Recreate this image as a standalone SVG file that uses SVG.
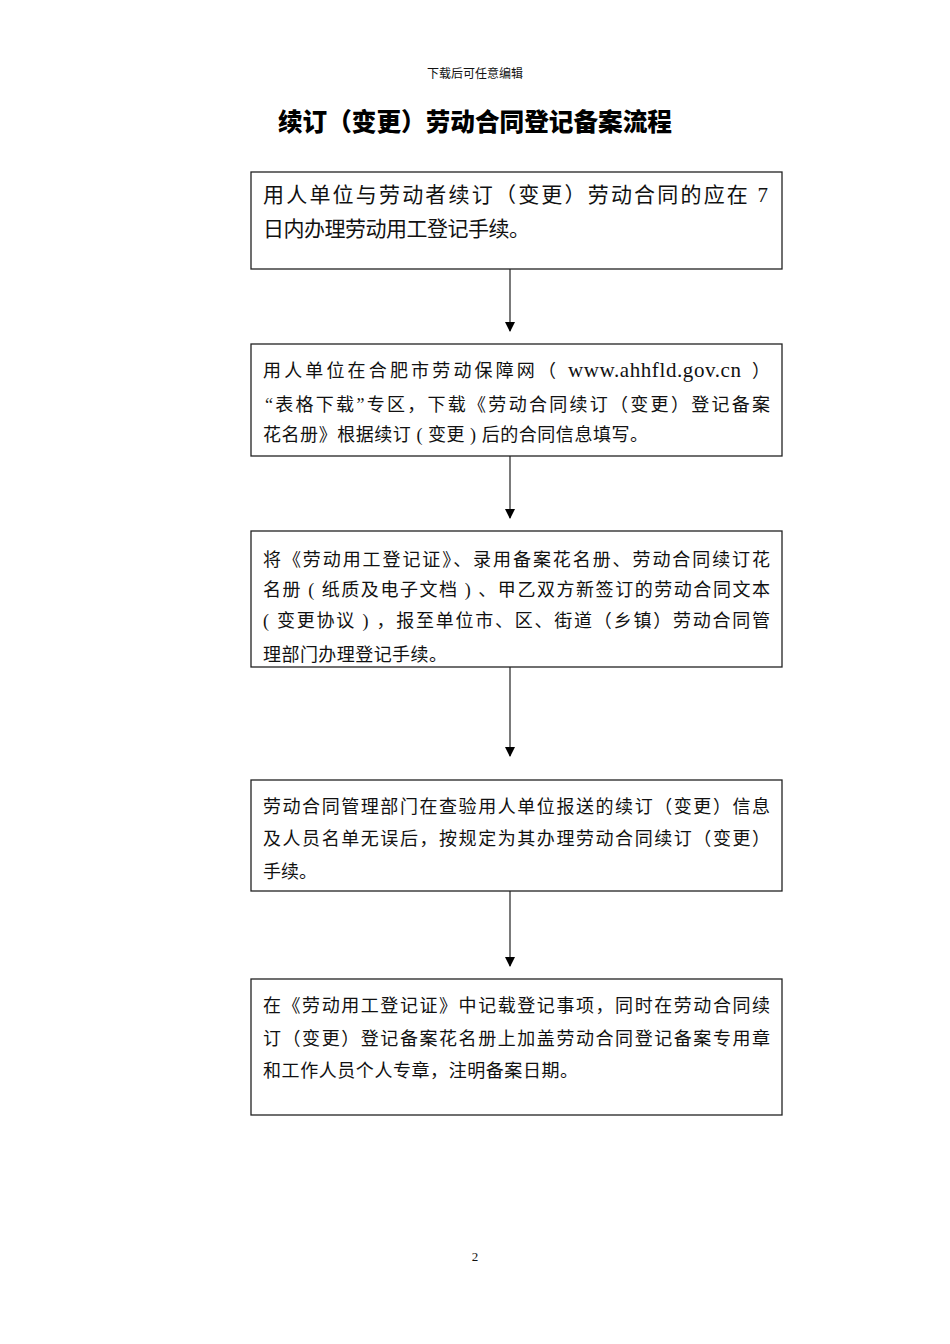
<svg xmlns="http://www.w3.org/2000/svg" width="950" height="1344" viewBox="0 0 950 1344">
<style>
.box{fill:#fff;stroke:#222;stroke-width:1.3}
.t{font-family:"Liberation Serif","Noto Sans CJK SC",serif;fill:#111}
.f18{font-size:18px}
.f21{font-size:21px}
.conn{stroke:#333;stroke-width:1.3;fill:none}
</style>
<defs>
<marker id="ah" markerWidth="10" markerHeight="10" refX="9" refY="5" orient="auto" markerUnits="userSpaceOnUse">
<path d="M0,0 L10,5 L0,10 Z" fill="#000"/>
</marker>
</defs>
<rect width="950" height="1344" fill="#fff"/>
<text class="t" x="475" y="78" font-size="12" text-anchor="middle">下载后可任意编辑</text>
<text x="475" y="131" font-family="'Noto Sans CJK SC',sans-serif" font-weight="900" font-size="25" text-anchor="middle" textLength="394" lengthAdjust="spacingAndGlyphs" fill="#000">续订（变更）劳动合同登记备案流程</text>

<g id="connectors">
<line class="conn" x1="510" y1="269" x2="510" y2="331" marker-end="url(#ah)"/>
<line class="conn" x1="510" y1="456" x2="510" y2="518" marker-end="url(#ah)"/>
<line class="conn" x1="510" y1="667" x2="510" y2="756" marker-end="url(#ah)"/>
<line class="conn" x1="510" y1="891" x2="510" y2="966" marker-end="url(#ah)"/>
</g>

<g id="n1">
<rect class="box" x="251" y="172" width="531" height="97"/>
<text class="t f21" x="263" y="202" textLength="505" lengthAdjust="spacing">用人单位与劳动者续订（变更）劳动合同的应在 7</text>
<text class="t f21" x="263" y="236" textLength="267" lengthAdjust="spacing">日内办理劳动用工登记手续。</text>
</g>

<g id="n2">
<rect class="box" x="251" y="344" width="531" height="112"/>
<text class="t f18" x="263" y="377" textLength="293" lengthAdjust="spacing">用人单位在合肥市劳动保障网（</text>
<text class="t f21" x="568" y="377" textLength="173" lengthAdjust="spacing">www.ahhfld.gov.cn</text>
<text class="t f18" x="752" y="377">）</text>
<text class="t f18" x="265" y="411" textLength="505" lengthAdjust="spacing">“表格下载”专区，下载《劳动合同续订（变更）登记备案</text>
<text class="t f18" x="263" y="441" textLength="385" lengthAdjust="spacing">花名册》根据续订 ( 变更 ) 后的合同信息填写。</text>
</g>

<g id="n3">
<rect class="box" x="251" y="531" width="531" height="136"/>
<text class="t f18" x="263" y="566" textLength="507" lengthAdjust="spacing">将《劳动用工登记证》、录用备案花名册、劳动合同续订花</text>
<text class="t f18" x="263" y="596" textLength="507" lengthAdjust="spacing">名册 ( 纸质及电子文档 ) 、甲乙双方新签订的劳动合同文本</text>
<text class="t f18" x="263" y="627" textLength="507" lengthAdjust="spacing">( 变更协议 ) ，报至单位市、区、街道（乡镇）劳动合同管</text>
<text class="t f18" x="263" y="661" textLength="184" lengthAdjust="spacing">理部门办理登记手续。</text>
</g>

<g id="n4">
<rect class="box" x="251" y="780" width="531" height="111"/>
<text class="t f18" x="263" y="813" textLength="507" lengthAdjust="spacing">劳动合同管理部门在查验用人单位报送的续订（变更）信息</text>
<text class="t f18" x="263" y="845" textLength="507" lengthAdjust="spacing">及人员名单无误后，按规定为其办理劳动合同续订（变更）</text>
<text class="t f18" x="263" y="878">手续。</text>
</g>

<g id="n5">
<rect class="box" x="251" y="979" width="531" height="136"/>
<text class="t f18" x="263" y="1012" textLength="507" lengthAdjust="spacing">在《劳动用工登记证》中记载登记事项，同时在劳动合同续</text>
<text class="t f18" x="263" y="1045" textLength="507" lengthAdjust="spacing">订（变更）登记备案花名册上加盖劳动合同登记备案专用章</text>
<text class="t f18" x="263" y="1077" textLength="315" lengthAdjust="spacing">和工作人员个人专章，注明备案日期。</text>
</g>

<text class="t" x="475" y="1261" font-size="13" text-anchor="middle">2</text>
</svg>
